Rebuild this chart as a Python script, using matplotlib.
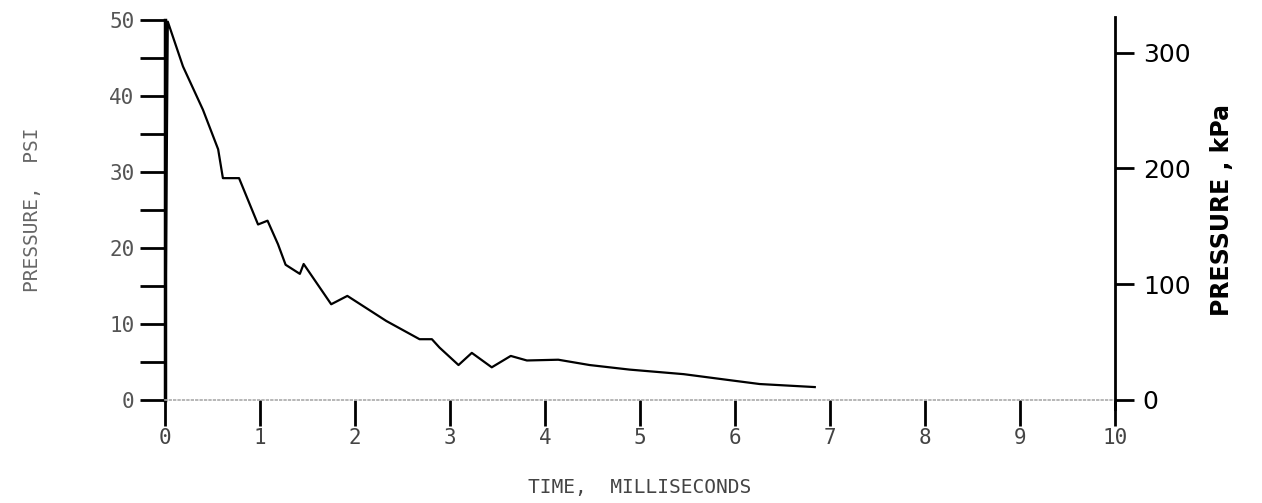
import numpy as np
import matplotlib
matplotlib.use('Agg')
import matplotlib.pyplot as plt
from matplotlib.ticker import MultipleLocator

# tempo (ms) e pressao (psi)
tempo = [0.0, 0.03, 0.19, 0.40, 0.56, 0.61, 0.78, 0.98, 1.08, 1.19, 1.27, 1.42,
         1.46, 1.75, 1.92, 2.33, 2.68, 2.81, 2.89, 3.09, 3.23, 3.44, 3.64, 3.81,
         4.14, 4.47, 4.68, 4.89, 5.46, 5.95, 6.26, 6.84]
pressao = [0.0, 49.8, 43.9, 38.2, 33.0, 29.2, 29.2, 23.1, 23.6, 20.5, 17.8, 16.6,
           17.9, 12.6, 13.7, 10.4, 8.0, 8.0, 6.9, 4.6, 6.2, 4.3, 5.8, 5.2,
           5.3, 4.6, 4.3, 4.0, 3.4, 2.6, 2.1, 1.7]

psi_ticks = [0, 10, 20, 30, 40, 50]
kpa_ticks = [0, 100, 200, 300]
t_ticks = list(range(0, 11))
KPA_TOPO = 328  # escala da direita como desenhada no original

fig = plt.figure(figsize=(12.62, 5.03), dpi=100)
ax = fig.add_axes([0.1307, 0.2048, 0.7528, 0.7552])

ax.plot(tempo, pressao, color='black', lw=1.6)

ax.set_xlim(0, 10)
ax.set_ylim(0, 50)

# eixo esquerdo
ax.set_yticks(psi_ticks)
ax.yaxis.set_minor_locator(MultipleLocator(5))
ax.tick_params(axis='y', which='both', direction='out', length=18, width=2,
               color='black', labelcolor='#555555', labelsize=15, pad=4)
ax.set_yticklabels([str(v) for v in psi_ticks], family='DejaVu Sans Mono')
ax.set_ylabel('PRESSURE,  PSI', color='#666666', fontsize=14,
              family='DejaVu Sans Mono', labelpad=48)

# eixo de baixo
ax.set_xticks(t_ticks)
ax.tick_params(axis='x', direction='out', length=19, width=2, color='black',
               labelcolor='#444444', labelsize=15, pad=1)
ax.set_xticklabels([str(v) for v in t_ticks], family='DejaVu Sans Mono')
ax.set_xlabel('TIME,  MILLISECONDS', color='#444444', fontsize=14,
              family='DejaVu Sans Mono', labelpad=22)

ax.spines['top'].set_visible(False)
ax.spines['right'].set_visible(False)
ax.spines['left'].set_linewidth(2.5)
ax.spines['bottom'].set_color('#aaaaaa')
ax.spines['bottom'].set_linestyle(':')
ax.spines['bottom'].set_linewidth(1.2)

# eixo direito em kPa
ax2 = ax.twinx()
ax2.set_ylim(0, KPA_TOPO)
ax2.set_yticks(kpa_ticks)
ax2.tick_params(axis='y', direction='out', length=14, width=2, color='black',
                labelsize=18, pad=6)
for s in ['top', 'left', 'bottom']:
    ax2.spines[s].set_visible(False)
ax2.spines['right'].set_linewidth(2)
ax2.spines['right'].set_bounds(-8, KPA_TOPO + 3)
ax2.set_ylabel('PRESSURE , kPa', fontsize=17, fontweight='bold', labelpad=14)

plt.savefig('out.png', dpi=100)
